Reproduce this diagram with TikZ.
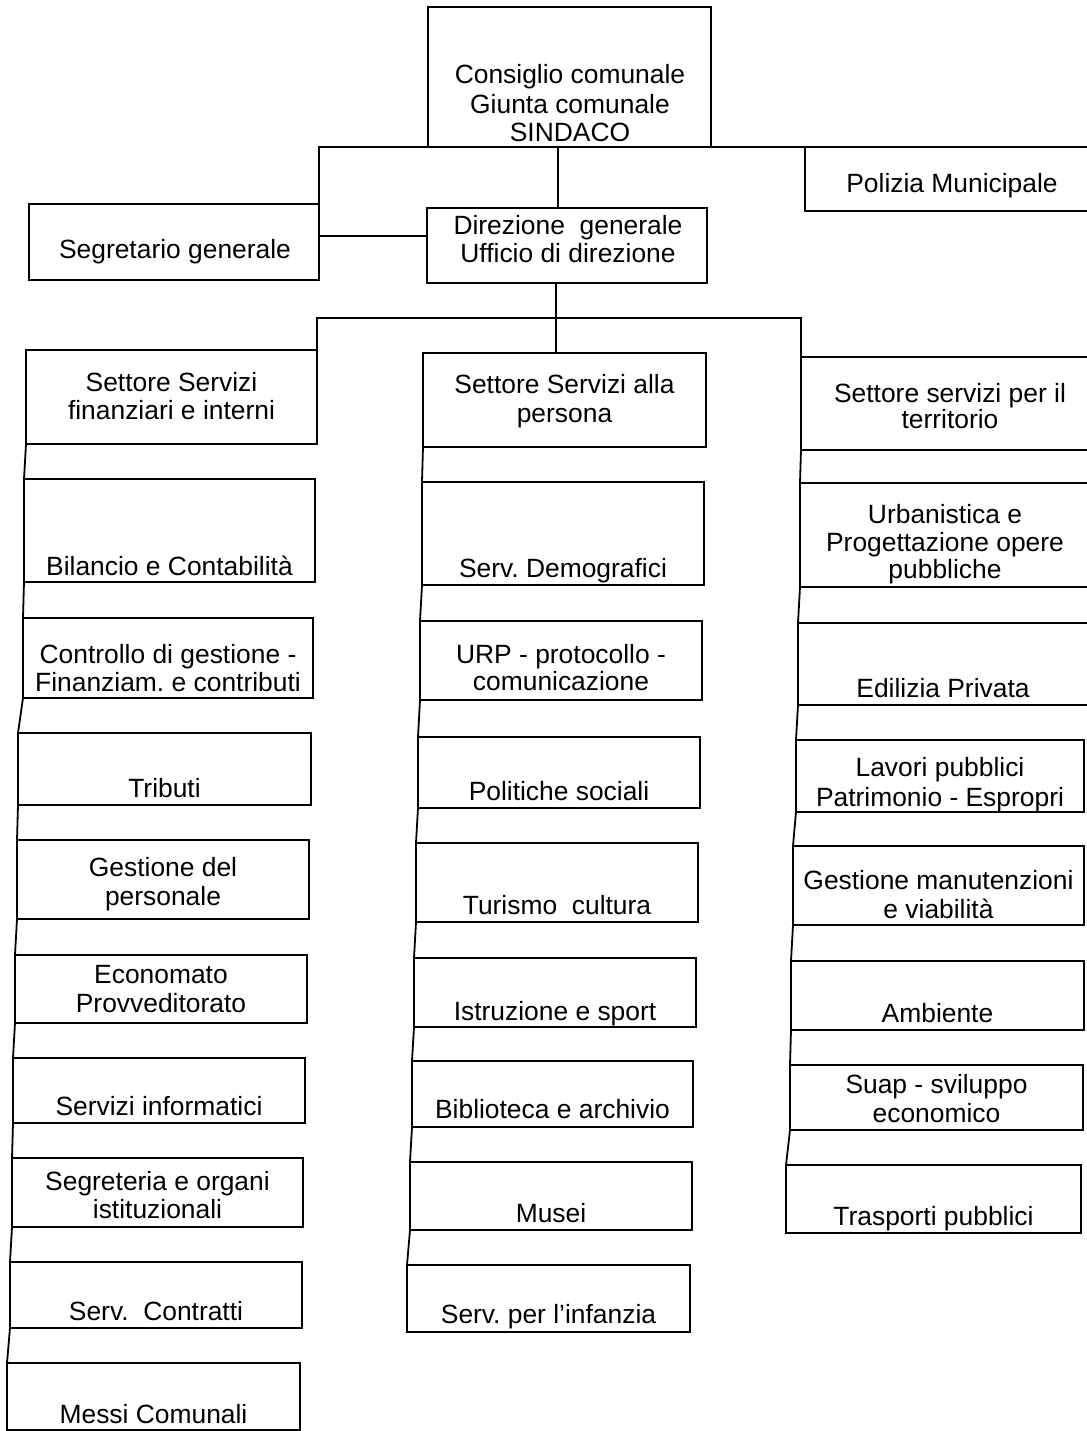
\documentclass[tikz,border=0pt]{standalone}
\usepackage{fontspec}
\setmainfont{Liberation Sans}
\frenchspacing
\newcommand{\bx}[6][box]{%
  \pgfmathsetmacro\bw{(#5-#3)*0.5}\pgfmathsetmacro\bh{(#6-#4)*0.5}%
  \node[#1, minimum width=\bw pt, minimum height=\bh pt] (#2) at ({(#3+#5)/2},{(#4+#6)/2}) {};}
\newcommand{\tx}[4]{\node[lbl] (#1) at (#2,#3) {#4};}
\begin{document}
\begin{tikzpicture}[x=0.5pt,y=-0.5pt,
  box/.style={draw, line width=0.9pt, inner sep=0pt, outer sep=0pt},
  openbox/.style={inner sep=0pt, outer sep=0pt},
  lbl/.style={inner sep=0pt, outer sep=0pt, anchor=base, font=\fontsize{13.2}{15}\selectfont\frenchspacing},
  conn/.style={line width=0.9pt}]
\useasboundingbox[fill=white] (0,0) rectangle (1087,1431);

% top level
\bx{cons}{428}{7}{711}{147}
\tx{cons1}{570}{83}{Consiglio comunale}
\tx{cons2}{570}{113}{Giunta comunale}
\tx{cons3}{570}{141}{SINDACO}

\bx{seg}{29}{204}{319}{280}
\tx{seg1}{175}{258}{Segretario generale}

\bx{dir}{427}{208}{707}{283}
\tx{dir1}{568}{234}{Direzione\ \ generale}
\tx{dir2}{568}{262}{Ufficio di direzione}

\bx[openbox]{pol}{805}{147}{1087}{211}
\draw[conn] (pol.north west) -- (pol.south west) -- (pol.south east);
\tx{pol1}{952}{192}{Polizia Municipale}

% left column
\bx{L1}{26}{350}{317}{444}
\tx{L1a}{171.5}{391}{Settore Servizi}
\tx{L1b}{171.5}{419}{finanziari e interni}
\bx{L2}{24}{479}{315}{582}
\tx{L2a}{169.5}{575}{Bilancio e Contabilità}
\bx{L3}{23}{618}{313}{698}
\tx{L3a}{168}{663}{Controllo di gestione -}
\tx{L3b}{168}{691}{Finanziam. e contributi}
\bx{L4}{18}{733}{311}{805}
\tx{L4a}{164.5}{797}{Tributi}
\bx{L5}{17}{840}{309}{919}
\tx{L5a}{163}{876}{Gestione del}
\tx{L5b}{163}{905}{personale}
\bx{L6}{15}{955}{307}{1023}
\tx{L6a}{161}{983}{Economato}
\tx{L6b}{161}{1012}{Provveditorato}
\bx{L7}{13}{1058}{305}{1123}
\tx{L7a}{159}{1115}{Servizi informatici}
\bx{L8}{12}{1158}{303}{1227}
\tx{L8a}{157.5}{1190}{Segreteria e organi}
\tx{L8b}{157.5}{1218}{istituzionali}
\bx{L9}{10}{1262}{302}{1328}
\tx{L9a}{156}{1320}{Serv.\ \ Contratti}
\bx{L10}{7}{1363}{300}{1430}
\tx{L10a}{153.5}{1423}{Messi Comunali}

% middle column
\bx{M1}{423}{353}{706}{447}
\tx{M1a}{564.5}{393}{Settore Servizi alla}
\tx{M1b}{564.5}{422}{persona}
\bx{M2}{422}{482}{704}{585}
\tx{M2a}{563}{577}{Serv. Demografici}
\bx{M3}{420}{621}{702}{700}
\tx{M3a}{561}{663}{URP - protocollo -}
\tx{M3b}{561}{690}{comunicazione}
\bx{M4}{418}{737}{700}{808}
\tx{M4a}{559}{800}{Politiche sociali}
\bx{M5}{416}{843}{698}{922}
\tx{M5a}{557}{914}{Turismo\ \ cultura}
\bx{M6}{414}{958}{696}{1027}
\tx{M6a}{555}{1020}{Istruzione e sport}
\bx{M7}{412}{1061}{693}{1127}
\tx{M7a}{552.5}{1118}{Biblioteca e archivio}
\bx{M8}{410}{1162}{692}{1230}
\tx{M8a}{551}{1222}{Musei}
\bx{M9}{407}{1265}{690}{1332}
\tx{M9a}{548.5}{1323}{Serv. per l’infanzia}

% right column
\bx[openbox]{R1}{801}{357}{1087}{450}
\draw[conn] (R1.north east) -- (R1.north west) -- (R1.south west) -- (R1.south east);
\tx{R1a}{950}{402}{Settore servizi per il}
\tx{R1b}{950}{428}{territorio}
\bx[openbox]{R2}{800}{483}{1087}{587}
\draw[conn] (R2.north east) -- (R2.north west) -- (R2.south west) -- (R2.south east);
\tx{R2a}{945}{523}{Urbanistica e}
\tx{R2b}{945}{551}{Progettazione opere}
\tx{R2c}{945}{578}{pubbliche}
\bx[openbox]{R3}{798}{623}{1087}{705}
\draw[conn] (R3.north east) -- (R3.north west) -- (R3.south west) -- (R3.south east);
\tx{R3a}{943}{697}{Edilizia Privata}
\bx{R4}{796}{740}{1084}{812}
\tx{R4a}{940}{776}{Lavori pubblici}
\tx{R4b}{940}{806}{Patrimonio - Espropri}
\bx{R5}{793}{846}{1084}{925}
\tx{R5a}{938.5}{889}{Gestione manutenzioni}
\tx{R5b}{938.5}{918}{e viabilità}
\bx{R6}{791}{961}{1084}{1030}
\tx{R6a}{937.5}{1022}{Ambiente}
\bx{R7}{790}{1065}{1083}{1130}
\tx{R7a}{936.5}{1093}{Suap - sviluppo}
\tx{R7b}{936.5}{1122}{economico}
\bx{R8}{786}{1165}{1081}{1233}
\tx{R8a}{933.5}{1225}{Trasporti pubblici}

% connectors
\coordinate (topR) at (1087,147);
\draw[conn] (seg.north east) |- (topR);
\coordinate (v1) at (558,0);
\draw[conn] (cons.south -| v1) -- (dir.north -| v1);
\coordinate (h1) at (0,236);
\draw[conn] (seg.east |- h1) -- (dir.west |- h1);
\coordinate (v2) at (556,0);
\coordinate (bus) at (0,318);
\draw[conn] (dir.south -| v2) -- (M1.north -| v2);
\draw[conn] (L1.north east) |- (bus -| v2) -| (R1.north west);

\foreach \a/\b in {L1/L2,L2/L3,L3/L4,L4/L5,L5/L6,L6/L7,L7/L8,L8/L9,L9/L10,
                   M1/M2,M2/M3,M3/M4,M4/M5,M5/M6,M6/M7,M7/M8,M8/M9,
                   R1/R2,R2/R3,R3/R4,R4/R5,R5/R6,R6/R7,R7/R8}
  \draw[conn] (\a.south west) -- (\b.north west);
\end{tikzpicture}
\end{document}
